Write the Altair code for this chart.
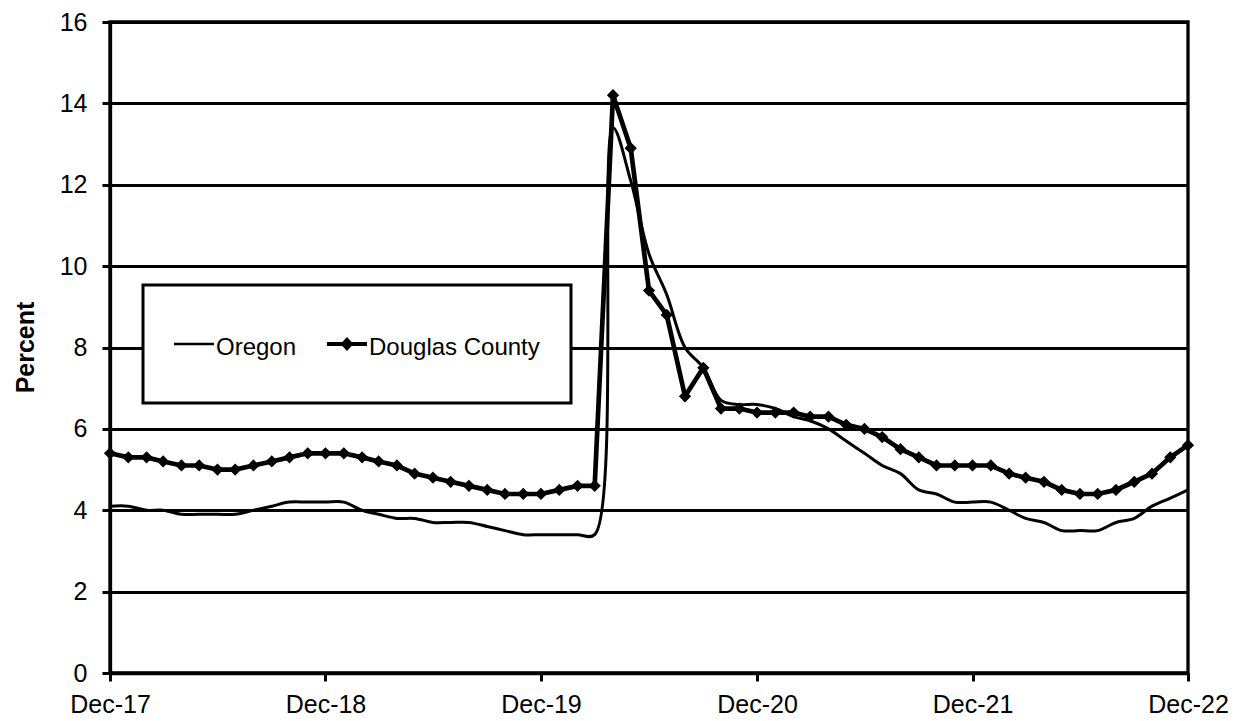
import altair as alt
import pandas as pd

# Monthly observations, Dec-17 .. Dec-22
months = pd.date_range("2017-12-01", "2022-12-01", freq="MS").strftime("%Y-%m-%d").tolist()

oregon = [4.1, 4.1, 4.0, 4.0, 3.9, 3.9, 3.9, 3.9, 4.0, 4.1, 4.2, 4.2,
          4.2, 4.2, 4.0, 3.9, 3.8, 3.8, 3.7, 3.7, 3.7, 3.6, 3.5, 3.4,
          3.4, 3.4, 3.4, 3.4, 13.4, 12.1, 10.3, 9.3, 8.0, 7.5, 6.7, 6.6,
          6.6, 6.5, 6.3, 6.2, 6.0, 5.7, 5.4, 5.1, 4.9, 4.5, 4.4, 4.2,
          4.2, 4.2, 4.0, 3.8, 3.7, 3.5, 3.5, 3.5, 3.7, 3.8, 4.1, 4.3,
          4.5]

douglas = [5.4, 5.3, 5.3, 5.2, 5.1, 5.1, 5.0, 5.0, 5.1, 5.2, 5.3, 5.4,
           5.4, 5.4, 5.3, 5.2, 5.1, 4.9, 4.8, 4.7, 4.6, 4.5, 4.4, 4.4,
           4.4, 4.5, 4.6, 4.6, 14.2, 12.9, 9.4, 8.8, 6.8, 7.5, 6.5, 6.5,
           6.4, 6.4, 6.4, 6.3, 6.3, 6.1, 6.0, 5.8, 5.5, 5.3, 5.1, 5.1,
           5.1, 5.1, 4.9, 4.8, 4.7, 4.5, 4.4, 4.4, 4.5, 4.7, 4.9, 5.3,
           5.6]

series_names = ["Oregon", "Douglas County"]
tick_years = [2017, 2018, 2019, 2020, 2021, 2022]
y_ticks = [0, 2, 4, 6, 8, 10, 12, 14, 16]

df = pd.DataFrame({
    "date": months * 2,
    "series": [series_names[0]] * len(oregon) + [series_names[1]] * len(douglas),
    "value": oregon + douglas,
})

FONT = "Liberation Sans"

x_enc = alt.X(
    "date:T",
    title=None,
    scale=alt.Scale(
        type="utc",
        domain=[alt.DateTime(year=2017, month=12, date=1, utc=True),
                alt.DateTime(year=2022, month=12, date=1, utc=True)],
        nice=False,
    ),
    axis=alt.Axis(
        values=[alt.DateTime(year=y, month=12, date=1, utc=True) for y in tick_years],
        labelExpr="utcFormat(datum.value, '%b-%y')",
        grid=False,
        tickSize=8,
        labelPadding=11,
        labelFlush=False,
        labelOverlap=False,
    ),
)

y_enc = alt.Y(
    "value:Q",
    title="Percent",
    scale=alt.Scale(domain=[0, 16], nice=False, zero=True),
    axis=alt.Axis(
        values=y_ticks,
        grid=True,
        tickSize=8,
        labelPadding=15,
        titleFontWeight="bold",
        titleX=-72,
        titleY=325,
    ),
)

base = alt.Chart(df)

oregon_line = base.transform_filter(alt.datum.series == "Oregon").mark_line(
    color="black", strokeWidth=3, interpolate="catmull-rom"
).encode(x=x_enc, y=y_enc)

douglas_line = base.transform_filter(alt.datum.series == "Douglas County").mark_line(
    color="black", strokeWidth=4.7
).encode(x=x_enc, y=y_enc)

douglas_pts = base.transform_filter(alt.datum.series == "Douglas County").mark_point(
    shape="diamond", filled=True, color="black", size=150, opacity=1
).encode(x=x_enc, y=y_enc)

leg = alt.Legend(
    title=None,
    orient="none",
    legendX=33,
    legendY=263,
    direction="horizontal",
    strokeColor="black",
    fillColor="white",
    padding=31,
    symbolSize=1600,
    labelFont=FONT,
    labelFontSize=24,
    labelColor="black",
    labelOffset=2,
    labelLimit=400,
    labelBaseline="top",
    columnPadding=30,
    symbolFillColor="black",
    symbolStrokeColor="black",
    symbolStrokeWidth=0,
)

# legend glyphs: filled bars (line samples) + diamond, invisible move-tos give the entry height
legend_layer = base.mark_point(
    filled=True, fill="black", clip=True, opacity=1
).encode(
    x=x_enc,
    y=alt.datum(-100),
    shape=alt.Shape(
        "series:N",
        scale=alt.Scale(
            domain=series_names,
            range=[
                "M0,-1.8M0,1.8M-1,0.3325L1,0.3325L1,0.4675L-1,0.4675Z",
                "M0,-1.8M0,1.8M-1,0.295L1,0.295L1,0.505L-1,0.505Z"
                "M-0.33,0.4L0,0.05L0.33,0.4L0,0.75Z",
            ],
        ),
        legend=leg,
    ),
)

chart = alt.layer(oregon_line, douglas_line, douglas_pts, legend_layer).properties(
    width=1078,
    height=651,
    autosize=alt.AutoSizeParams(type="none"),
    padding={"left": 102, "top": 14, "right": 45, "bottom": 48},
    background="white",
).configure_view(
    stroke="black", strokeWidth=3.3
).configure_axis(
    domainColor="black",
    domainWidth=3.3,
    tickColor="black",
    tickWidth=3,
    gridColor="black",
    gridWidth=3,
    gridOpacity=1,
    labelFont=FONT,
    labelFontSize=25,
    labelColor="black",
    titleFont=FONT,
    titleFontSize=25,
    titleColor="black",
)

try:
    alt.LegendConfig(strokeWidth=3)
    chart = chart.configure_legend(strokeWidth=3)
except Exception:
    pass

chart.save("out.html", embed_options={"renderer": "svg", "actions": False})
